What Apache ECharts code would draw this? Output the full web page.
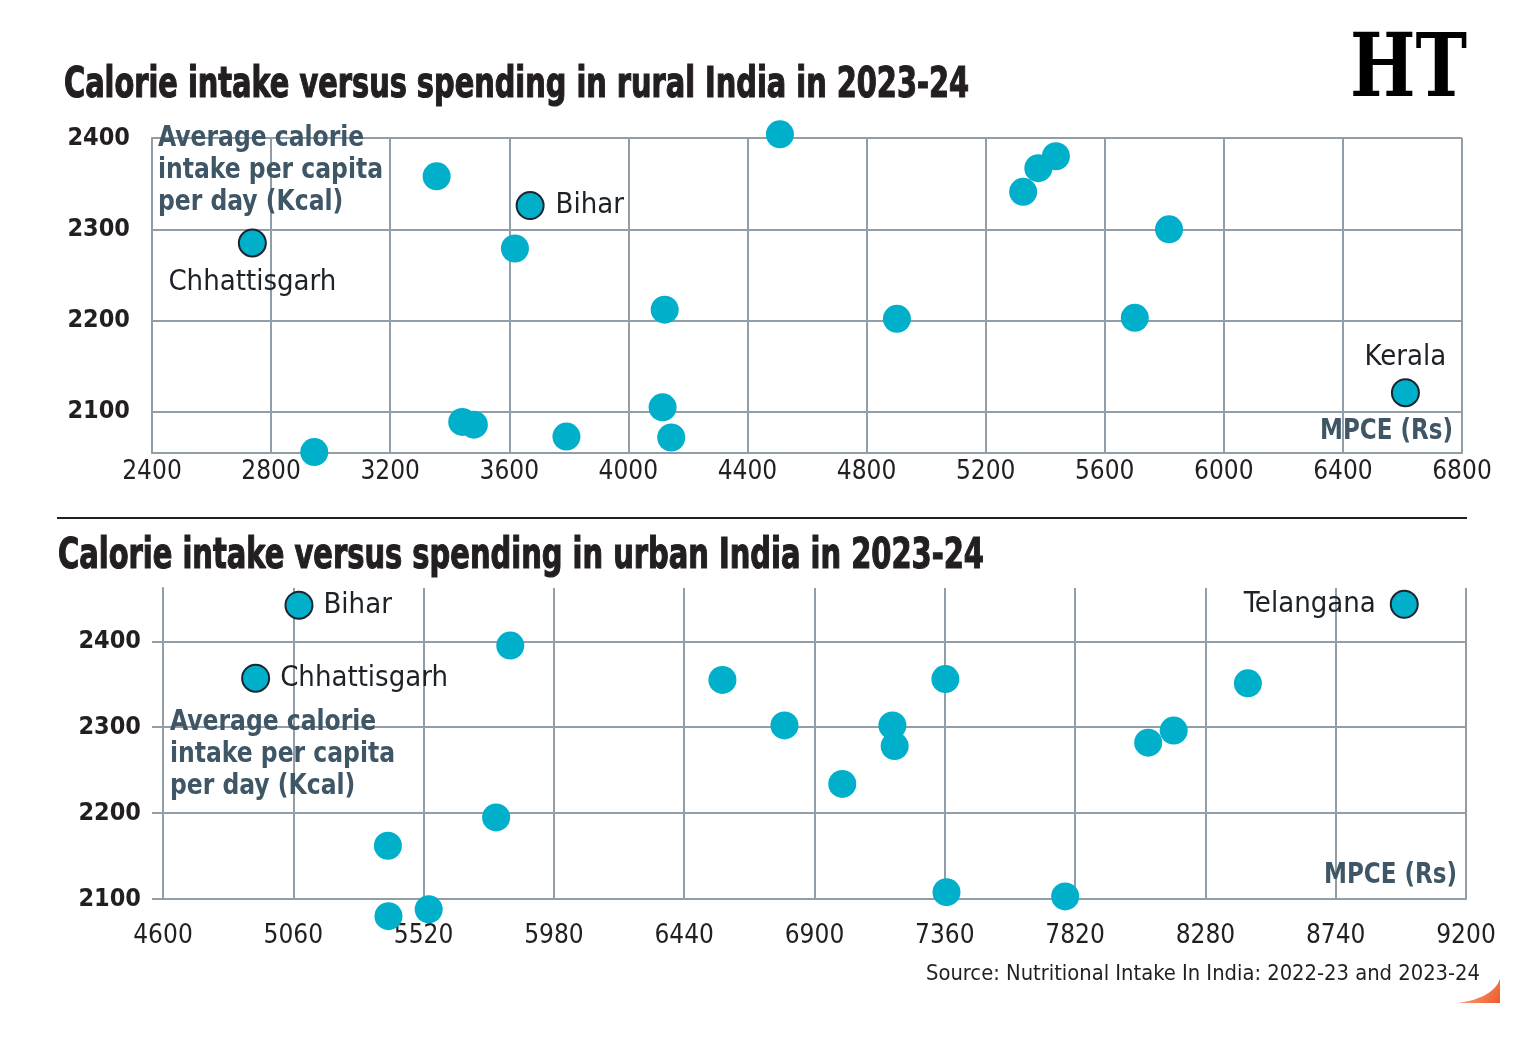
<!DOCTYPE html>
<html><head><meta charset="utf-8">
<script src="https://cdn.jsdelivr.net/npm/echarts@6/dist/echarts.min.js"></script>
<style>html,body{margin:0;padding:0;background:#fff}#c{width:1527px;height:1047px}</style>
</head><body><div id="c"></div>
<script>
// ---- DATA ----
const ruralMPCE  = [2737, 3356, 2945, 3442, 3481, 3670, 3619, 4509, 4122, 4902, 4115, 4144, 3792, 5436, 5377, 5326, 5816, 5701, 6610];
const ruralKcal  = [2285, 2358, 2056, 2089, 2086, 2326, 2279, 2404, 2212, 2202, 2105, 2072, 2073, 2380, 2367, 2341, 2300, 2203, 2121];
const ruralNames = ['Chhattisgarh', '', '', '', '', 'Bihar', '', '', '', '', '', '', '', '', '', '', '', '', 'Kerala'];

const urbanMPCE  = [5080, 4927, 5394, 5396, 5538, 5826, 5776, 6575, 6794, 6998, 7175, 7183, 7362, 7366, 8982, 8430, 8168, 8078, 7785];
const urbanKcal  = [2442, 2357, 2162, 2080, 2088, 2395, 2195, 2355, 2302, 2234, 2302, 2278, 2356, 2108, 2443, 2351, 2296, 2282, 2103];
const urbanNames = ['Bihar', 'Chhattisgarh', '', '', '', '', '', '', '', '', '', '', '', '', 'Telangana', '', '', '', ''];

const kcalTicks = [2100, 2200, 2300, 2400];

const titleRural = 'Calorie intake versus spending in rural India in 2023-24';
const titleUrban = 'Calorie intake versus spending in urban India in 2023-24';
const yName = ['Average calorie', 'intake per capita', 'per day (Kcal)'];
const xName = 'MPCE (Rs)';
const sourceText = 'Source: Nutritional Intake In India: 2022-23 and 2023-24';

// ---- STYLE ----
const FONT = "'DejaVu Sans Condensed', 'DejaVu Sans', sans-serif";
const INK = '#231f20';
const GRID = '#919ea8';
const DOT = '#00afca';
const NAMECOL = '#3e5665';
const labelPlace = {
  rural: { Chhattisgarh: ['bottom', 10], Bihar: ['right', 11], Kerala: ['top', 6] },
  urban: { Bihar: ['right', 10], Chhattisgarh: ['right', 10], Telangana: ['left', 14] }
};
const plain = function (v) { return String(v); };

const mctx = document.createElement('canvas').getContext('2d');
function fit(text, font, w) { mctx.font = font; return w / mctx.measureText(text).width; }
function txt(text, x, y, font, fill, scale, align, stroke) {
  const st = { text: text, font: font, fill: fill, align: align || 'left', verticalAlign: 'middle' };
  if (stroke) { st.stroke = fill; st.lineWidth = stroke; }
  return { type: 'text', x: x, y: y, scaleX: scale, z: 20, silent: true, style: st };
}

function buildData(xs, ys, names, place) {
  return xs.map(function (x, i) {
    const n = names[i];
    const item = { value: [x, ys[i]], name: n };
    if (n) {
      const p = place[n];
      item.symbolSize = 27;
      item.itemStyle = { borderColor: '#1b2530', borderWidth: 2 };
      item.label = { show: true, position: p[0], distance: p[1], formatter: '{b}' };
    }
    return item;
  });
}

function xAxisCfg(gi, min, max, interval, margin) {
  return { gridIndex: gi, type: 'value', min: min, max: max, interval: interval,
    axisLine: { show: true, lineStyle: { color: GRID, width: 2 } },
    axisTick: { show: false },
    splitLine: { show: true, lineStyle: { color: GRID, width: 2 } },
    axisLabel: { color: INK, fontSize: 26, fontFamily: FONT, margin: margin, formatter: plain } };
}
function yAxisCfg(gi, min, max, tickLen) {
  return { gridIndex: gi, type: 'value', min: min, max: max,
    axisLine: { show: true, lineStyle: { color: GRID, width: 2 } },
    axisTick: { show: tickLen > 0, length: tickLen, customValues: kcalTicks, lineStyle: { color: GRID, width: 2 } },
    splitLine: { show: true, customValues: kcalTicks, lineStyle: { color: GRID, width: 2 } },
    axisLabel: { customValues: kcalTicks, color: INK, fontSize: 25, fontWeight: 'bold', fontFamily: FONT, margin: 22, formatter: plain } };
}
function series(gi, xs, ys, names, place) {
  return { type: 'scatter', xAxisIndex: gi, yAxisIndex: gi, symbolSize: 28, clip: false,
    itemStyle: { color: DOT, opacity: 1 },
    label: { show: false, color: '#1d2228', fontSize: 29, fontFamily: FONT },
    emphasis: { disabled: true },
    data: buildData(xs, ys, names, place) };
}

// ---- graphics (titles, axis names, logo, source) ----
const fTitle = "bold 43px 'DejaVu Sans Condensed', 'DejaVu Sans', sans-serif";
const fName = "bold 29px 'DejaVu Sans Condensed', 'DejaVu Sans', sans-serif";
const fSource = "22px 'DejaVu Sans Condensed', 'DejaVu Sans', sans-serif";
const fLogo = "bold 88px 'DejaVu Serif', serif";
const sT1 = fit(titleRural, fTitle, 905);
const sT2 = fit(titleUrban, fTitle, 926);
const sName = fit(yName[1], fName, 225);
const sX = fit(xName, fName, 133);
const sSrc = fit(sourceText, fSource, 554);
const sLogo = fit('HT', fLogo, 117);

// decorative orange corner (quadratic edge sampled into a polygon)
const cornerPts = [[1500, 979], [1500, 1003], [1458, 1003]];
for (let k = 1; k < 12; k++) {
  const t = k / 12, a = 1 - t;
  cornerPts.push([a * a * 1458 + 2 * a * t * 1493 + t * t * 1500, a * a * 1003 + 2 * a * t * 998 + t * t * 979]);
}

const graphics = [
  txt(titleRural, 64, 86, fTitle, INK, sT1, 'left', 1.2),
  txt(titleUrban, 58, 557, fTitle, INK, sT2, 'left', 1.2),
  txt(yName[0], 158, 138, fName, NAMECOL, sName),
  txt(yName[1], 158, 170, fName, NAMECOL, sName),
  txt(yName[2], 158, 202, fName, NAMECOL, sName),
  txt(yName[0], 170, 722, fName, NAMECOL, sName),
  txt(yName[1], 170, 754, fName, NAMECOL, sName),
  txt(yName[2], 170, 786, fName, NAMECOL, sName),
  txt(xName, 1453, 431, fName, NAMECOL, sX, 'right'),
  txt(xName, 1457, 875, fName, NAMECOL, sX, 'right'),
  txt(sourceText, 1480, 974, fSource, INK, sSrc, 'right'),
  txt('HT', 1350, 73, fLogo, '#000', sLogo),
  { type: 'line', silent: true, shape: { x1: 57, y1: 518, x2: 1467, y2: 518 }, style: { stroke: INK, lineWidth: 2 } },
  { type: 'polygon', silent: true, shape: { points: cornerPts },
    style: { fill: new echarts.graphic.LinearGradient(0, 0, 1, 1, [{ offset: 0, color: '#fbb08f' }, { offset: 1, color: '#ee5b2b' }]) } }
];

const chart = echarts.init(document.getElementById('c'));
chart.setOption({
  animation: false,
  backgroundColor: '#fff',
  grid: [
    { left: 152, top: 138, width: 1310, height: 315 },
    { left: 163, top: 588, width: 1303, height: 311 }
  ],
  xAxis: [xAxisCfg(0, 2400, 6800, 400, 6), xAxisCfg(1, 4600, 9200, 460, 24)],
  yAxis: [yAxisCfg(0, 2055, 2400, 0), yAxisCfg(1, 2100, 2462, 11)],
  series: [
    series(0, ruralMPCE, ruralKcal, ruralNames, labelPlace.rural),
    series(1, urbanMPCE, urbanKcal, urbanNames, labelPlace.urban)
  ],
  graphic: graphics
});
</script>
</body></html>
